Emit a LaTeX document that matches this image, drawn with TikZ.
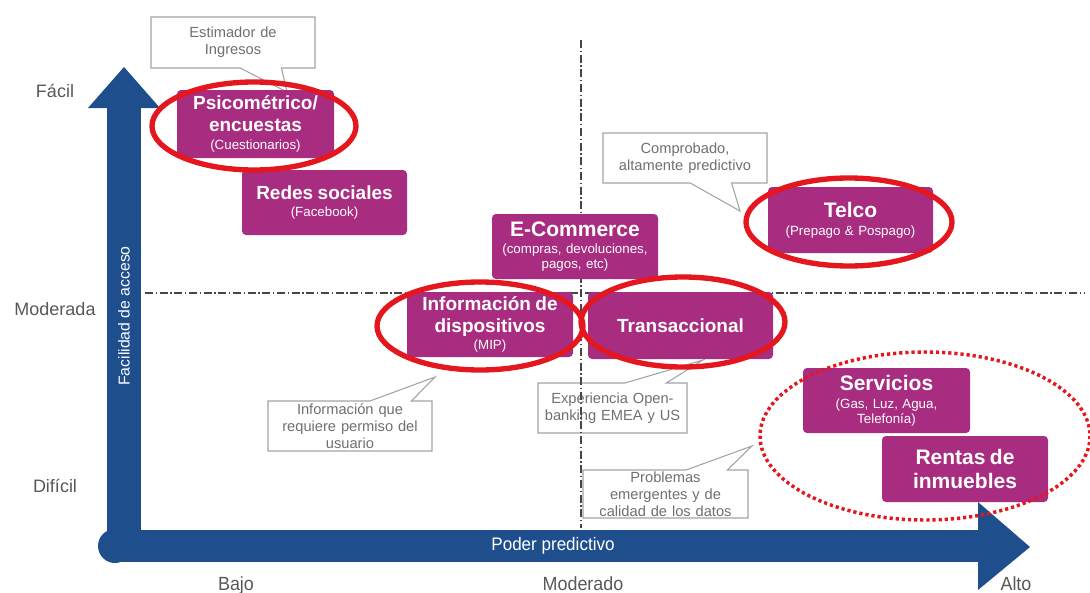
\documentclass[tikz,border=0pt]{standalone}
\usepackage{fontspec}
\setmainfont{Liberation Sans}
\newfontfamily\narrowsans[FakeStretch=0.94]{Liberation Sans}
\usetikzlibrary{shapes.callouts}

\definecolor{axisblue}{RGB}{31,78,141}
\definecolor{boxmag}{RGB}{168,44,128}
\definecolor{ringred}{RGB}{228,22,30}
\definecolor{calloutline}{RGB}{160,164,170}
\definecolor{callouttext}{RGB}{112,112,112}
\definecolor{labelgray}{RGB}{88,88,88}
\definecolor{guidegray}{RGB}{70,70,70}

\newcommand\bxtitle{\fontsize{14.25pt}{16.5pt}\selectfont\bfseries}
\newcommand\bxtitlelg{\fontsize{15.75pt}{18pt}\selectfont\bfseries}
\newcommand\bxsub{\par\vskip 2pt\fontsize{10pt}{11.25pt}\selectfont\mdseries}
\newcommand\notefont{\fontsize{11pt}{12.75pt}\selectfont}

\tikzset{
  boxdim/.code 2 args={%
    \pgfmathsetlengthmacro\bxw{#1*0.75pt}%
    \pgfmathsetlengthmacro\bxh{#2*0.75pt}%
    \pgfmathsetlengthmacro\bxtw{#1*0.75pt-8pt}%
    \edef\bxset{\noexpand\pgfkeysalso{minimum width=\bxw,minimum height=\bxh,text width=\bxtw}}\bxset},
  magbox/.style={fill=boxmag, rounded corners=3pt, text=white, align=center,
    inner xsep=4pt, inner ysep=0pt},
  note/.style={rectangle callout, draw=calloutline, line width=0.8pt, fill=white,
    text=callouttext, align=center, font=\notefont, inner xsep=4pt, inner ysep=0pt,
    callout pointer width=31pt},
  ring/.style={draw=ringred, line width=4pt},
  dotring/.style={draw=ringred, line width=2.6pt, dash pattern=on 2.4pt off 2.2pt},
  guide/.style={draw=guidegray, line width=0.9pt, dash pattern=on 6pt off 2pt on 1pt off 2pt},
  levellabel/.style={text=labelgray, font=\fontsize{13.5pt}{15pt}\selectfont},
  scalelabel/.style={text=labelgray, font=\narrowsans\fontsize{14.3pt}{16pt}\selectfont, anchor=base},
}

\begin{document}
\begin{tikzpicture}[x=0.75pt, y=-0.75pt]
\useasboundingbox (0,0) rectangle (1090,593);

% explanatory notes
\node[note, boxdim={164}{51}, callout absolute pointer={(287,92)}] (nIngresos) at (233,42.5)
  {Estimador de\\Ingresos\par};
\node[note, boxdim={164}{50}, callout absolute pointer={(740,211)}] (nComprobado) at (685,158)
  {Comprobado,\\altamente predictivo\par};
\node[note, boxdim={164}{50}, callout absolute pointer={(435,377)}] (nPermiso) at (350,426)
  {Información que\\requiere permiso del\\usuario\par};
\node[note, boxdim={149}{50}, callout absolute pointer={(703,360)}] (nOpen) at (612.5,408)
  {Experiencia Open-\\banking EMEA y US\par};
\node[note, boxdim={165}{48}, callout absolute pointer={(752,446)}] (nCalidad) at (665.5,494)
  {Problemas\\emergentes y de\\calidad de los datos\par};

% quadrant guides
\coordinate (gL) at (145,293);
\coordinate (gR) at (1085,293);
\coordinate (gT) at (581,40);
\coordinate (gB) at (581,528);
\draw[guide] (gL) -- (gR);
\draw[guide] (gT) -- (gB);

% axes
\fill[axisblue] (107,108) rectangle (141,546);
\fill[axisblue] (115,530) rectangle (979,562);
\fill[axisblue] (115,546) circle[radius=17];
\fill[axisblue] (88,108) -- (124,67) -- (160,108) -- cycle;
\fill[axisblue] (978,502) -- (1030,547) -- (978,590) -- cycle;

\node[text=white, rotate=90, font=\fontsize{11.85pt}{13pt}\selectfont] (yaxis) at (124,316) {Facilidad de acceso};
\node[text=white, font=\narrowsans\fontsize{13.6pt}{15pt}\selectfont] (xaxis) at (553,546) {Poder predictivo};

\node[levellabel] (lFacil) at (55,91) {Fácil};
\node[levellabel] (lModerada) at (55,309) {Moderada};
\node[levellabel] (lDificil) at (55,486) {Difícil};

\node[scalelabel] (lBajo) at (236,590) {Bajo};
\node[scalelabel] (lModerado) at (583,590) {Moderado};
\node[scalelabel] (lAlto) at (1016,590) {Alto};

% data sources
\node[magbox, boxdim={157}{68}] (psico) at (255.5,124)
  {\bxtitle Psicométrico/\\encuestas\bxsub (Cuestionarios)\par};
\node[magbox, boxdim={165}{65}] (redes) at (324.5,202.5)
  {\bxtitle Redes sociales\bxsub (Facebook)\par};
\node[magbox, boxdim={166}{65}] (ecom) at (575,246.5)
  {\bxtitlelg E-Commerce\bxsub (compras, devoluciones,\\pagos, etc)\par};
\node[magbox, boxdim={166}{65}] (info) at (490,324.5)
  {\bxtitle Información de\\dispositivos\bxsub (MIP)\par};
\node[magbox, boxdim={185}{67}] (trans) at (680.5,325.5)
  {\bxtitle Transaccional\par};
\node[magbox, boxdim={165}{66}] (telco) at (850.5,220)
  {\bxtitlelg Telco\bxsub (Prepago \& Pospago)\par};
\node[magbox, boxdim={167}{65}] (serv) at (886.5,400.5)
  {\bxtitlelg Servicios\bxsub (Gas, Luz, Agua,\\Telefonía)\par};
\node[magbox, boxdim={166}{66}] (rentas) at (965,469)
  {\bxtitlelg Rentas de\\inmuebles\par};

% highlights
\draw[ring] (254,126) ellipse[x radius=102, y radius=44];
\draw[ring] (480,326) ellipse[x radius=103, y radius=44];
\draw[ring] (683,322) ellipse[x radius=102, y radius=45];
\draw[ring] (849,222) ellipse[x radius=103, y radius=44];
\draw[dotring] (925,436) ellipse[x radius=165, y radius=84];
\end{tikzpicture}
\end{document}
